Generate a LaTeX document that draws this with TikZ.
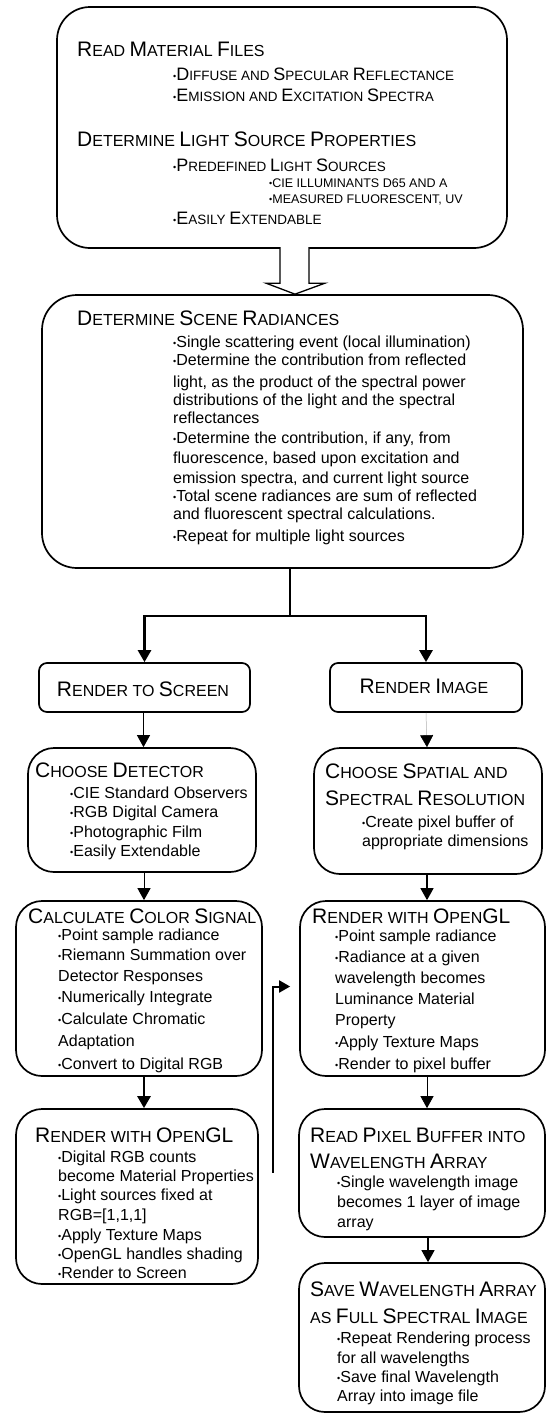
\documentclass[tikz,border=0pt]{standalone}
\usepackage{fontspec}
\setmainfont{Liberation Sans}
\usetikzlibrary{arrows.meta,calc,fit}
\newcommand\tbig{\fontsize{21}{25}\selectfont}
\newcommand\tsml{\fontsize{16}{19}\selectfont}
\newcommand\tw[2]{{\tbig #1}{\tsml #2}}
\newcommand\bbig{\fontsize{18}{21}\selectfont}
\newcommand\bsml{\fontsize{13.5}{16}\selectfont}
\newcommand\bw[2]{{\bbig #1}{\bsml #2}}
\newcommand\ssml{\fontsize{12.5}{15}\selectfont}
\newcommand\bodyf{\fontsize{16}{19}\selectfont}
\newcommand\bul{\raisebox{0.9pt}{\fontsize{9}{9}\selectfont •}}
\tikzset{
  box/.style={draw, line width=1.7pt, inner sep=0pt},
  ln/.style={anchor=base west, inner sep=0pt, font=\bodyf},
  ttl/.style={anchor=base west, inner sep=0pt, font=\tsml},
  arr/.style={-{Triangle[width=13pt,length=12pt]}},
}
\begin{document}
\begin{tikzpicture}[x=1pt,y=-1pt]
\path[use as bounding box, fill=white] (0,0) rectangle (547,1414);

% boxes
\node[box, rounded corners=33pt, fit={(57,7) (507,248)}] (top) {};
\node[box, rounded corners=35pt, fit={(42,295) (523,568)}] (det) {};
\node[box, rounded corners=8pt, fit={(39,663) (250,712)}] (rts) {};
\node[box, rounded corners=8pt, fit={(330,663) (522,712)}] (rimg) {};
\node[box, rounded corners=26pt, fit={(28,748) (256,872)}] (chd) {};
\node[box, rounded corners=26pt, fit={(314,748) (542,874)}] (css) {};
\node[box, rounded corners=26pt, fit={(16,901) (262,1076)}] (ccs) {};
\node[box, rounded corners=26pt, fit={(16,1109) (258,1284)}] (rgl) {};
\node[box, rounded corners=26pt, fit={(300,901) (545,1076)}] (rgr) {};
\node[box, rounded corners=26pt, fit={(299,1109) (545,1237)}] (rpb) {};
\node[box, rounded corners=26pt, fit={(299,1263) (545,1412)}] (sav) {};

% top box text
\node[ttl] (t1) at (77,56) {\tw{R}{EAD} \tw{M}{ATERIAL} \tw{F}{ILES}};
\node[ttl, font=\bsml] (t2) at (173,80) {\bul\bw{D}{IFFUSE} AND \bw{S}{PECULAR} \bw{R}{EFLECTANCE}};
\node[ttl, font=\bsml] (t3) at (173,101) {\bul\bw{E}{MISSION} AND \bw{E}{XCITATION} \bw{S}{PECTRA}};
\node[ttl] (t4) at (77,146) {\tw{D}{ETERMINE} \tw{L}{IGHT} \tw{S}{OURCE} \tw{P}{ROPERTIES}};
\node[ttl, font=\bsml] (t5) at (173,171) {\bul\bw{P}{REDEFINED} \bw{L}{IGHT} \bw{S}{OURCES}};
\node[ttl, font=\ssml] (t6) at (269,187) {\bul CIE ILLUMINANTS D65 AND A};
\node[ttl, font=\ssml] (t7) at (269,203) {\bul MEASURED FLUORESCENT, UV};
\node[ttl, font=\bsml] (t8) at (173,224) {\bul\bw{E}{ASILY} \bw{E}{XTENDABLE}};

% determine box text
\node[ttl] (d0) at (77,325) {\tw{D}{ETERMINE} \tw{S}{CENE} \tw{R}{ADIANCES}};
\node[ln] (d1) at (173,347) {\bul Single scattering event (local illumination)};
\node[ln] (d2) at (173,365) {\bul Determine the contribution from reflected};
\node[ln] (d3) at (173,387) {light, as the product of the spectral power};
\node[ln] (d4) at (173,405) {distributions of the light and the spectral};
\node[ln] (d5) at (173,423) {reflectances};
\node[ln] (d6) at (173,443) {\bul Determine the contribution, if any, from};
\node[ln] (d7) at (173,463) {fluorescence, based upon excitation and};
\node[ln] (d8) at (173,483) {emission spectra, and current light source};
\node[ln] (d9) at (173,501) {\bul Total scene radiances are sum of reflected};
\node[ln] (d10) at (173,519) {and fluorescent spectral calculations.};
\node[ln] (d11) at (173,541) {\bul Repeat for multiple light sources};

% render to screen / render image
\node[anchor=base, inner sep=0pt, font=\tsml] (rtsT) at (143,696) {\tw{R}{ENDER} TO \tw{S}{CREEN}};
\node[anchor=base, inner sep=0pt, font=\tsml] (rimgT) at (424,693) {\tw{R}{ENDER} \tw{I}{MAGE}};

% choose detector
\node[ttl] (c0) at (35,777) {\tw{C}{HOOSE} \tw{D}{ETECTOR}};
\node[ln] (c1) at (70,798) {\bul CIE Standard Observers};
\node[ln] (c2) at (70,817) {\bul RGB Digital Camera};
\node[ln] (c3) at (70,837) {\bul Photographic Film};
\node[ln] (c4) at (70,856) {\bul Easily Extendable};

% choose spatial
\node[ttl] (s0) at (325,778) {\tw{C}{HOOSE} \tw{S}{PATIAL} AND};
\node[ttl] (s1) at (325,805) {\tw{S}{PECTRAL} \tw{R}{ESOLUTION}};
\node[ln] (s2) at (362,827) {\bul Create pixel buffer of};
\node[ln] (s3) at (362,846) {appropriate dimensions};

% calculate color signal
\node[ttl] (k0) at (28,923) {\tw{C}{ALCULATE} \tw{C}{OLOR} \tw{S}{IGNAL}};
\node[ln] (k1) at (58,940) {\bul Point sample radiance};
\node[ln] (k2) at (58,960) {\bul Riemann Summation over};
\node[ln] (k3) at (58,981) {Detector Responses};
\node[ln] (k4) at (58,1002) {\bul Numerically Integrate};
\node[ln] (k5) at (58,1024) {\bul Calculate Chromatic};
\node[ln] (k6) at (58,1046) {Adaptation};
\node[ln] (k7) at (58,1069) {\bul Convert to Digital RGB};

% render with opengl (left)
\node[ttl] (g0) at (35,1142) {\tw{R}{ENDER} WITH \tw{O}{PEN}{\tbig GL}};
\node[ln] (g1) at (58,1162) {\bul Digital RGB counts};
\node[ln] (g2) at (58,1181) {become Material Properties};
\node[ln] (g3) at (58,1200) {\bul Light sources fixed at};
\node[ln] (g4) at (58,1220) {RGB=[1,1,1]};
\node[ln] (g5) at (58,1240) {\bul Apply Texture Maps};
\node[ln] (g6) at (58,1259) {\bul OpenGL handles shading};
\node[ln] (g7) at (58,1278) {\bul Render to Screen};

% render with opengl (right)
\node[ttl] (h0) at (312,923) {\tw{R}{ENDER} WITH \tw{O}{PEN}{\tbig GL}};
\node[ln] (h1) at (335,941) {\bul Point sample radiance};
\node[ln] (h2) at (335,962) {\bul Radiance at a given};
\node[ln] (h3) at (335,983) {wavelength becomes};
\node[ln] (h4) at (335,1004) {Luminance Material};
\node[ln] (h5) at (335,1025) {Property};
\node[ln] (h6) at (335,1047) {\bul Apply Texture Maps};
\node[ln] (h7) at (335,1069) {\bul Render to pixel buffer};

% read pixel buffer
\node[ttl] (p0) at (310,1142) {\tw{R}{EAD} \tw{P}{IXEL} \tw{B}{UFFER} INTO};
\node[ttl] (p1) at (310,1168) {\tw{W}{AVELENGTH} \tw{A}{RRAY}};
\node[ln] (p2) at (337,1187) {\bul Single wavelength image};
\node[ln] (p3) at (337,1207) {becomes 1 layer of image};
\node[ln] (p4) at (337,1227) {array};

% save
\node[ttl] (v0) at (310,1296) {\tw{S}{AVE} \tw{W}{AVELENGTH} \tw{A}{RRAY}};
\node[ttl] (v1) at (310,1323) {AS \tw{F}{ULL} \tw{S}{PECTRAL} \tw{I}{MAGE}};
\node[ln] (v2) at (337,1343) {\bul Repeat Rendering process};
\node[ln] (v3) at (337,1363) {for all wavelengths};
\node[ln] (v4) at (337,1382) {\bul Save final Wavelength};
\node[ln] (v5) at (337,1401) {Array into image file};

% hollow block arrow
\coordinate (hatip) at ($(det.north)+(12.5,0)$);
\draw[line width=1.3pt, fill=white, line join=miter]
  ($(hatip)+(-15,-47)$) -- ($(hatip)+(-15,-11)$) -- ($(hatip)+(-29,-11)$) --
  (hatip) -- ($(hatip)+(30,-11)$) -- ($(hatip)+(14,-11)$) -- ($(hatip)+(14,-47)$);

% fork
\coordinate (fork0) at ($(det.south)+(7.5,0)$);
\coordinate (fork) at ($(fork0)+(0,47)$);
\draw[line width=2.6pt] (fork0) -- (fork);
\draw[line width=2.6pt, arr] (fork) -| (rts.north);
\draw[line width=2.6pt, arr] (fork) -| (rimg.north);

% left column
\coordinate (a1) at ($(rts.south)+(-1,0)$);
\draw[line width=1pt, arr] (a1) -- (a1 |- chd.north);
\coordinate (a2) at ($(chd.south)+(2,0)$);
\draw[line width=1pt, arr] (a2) -- (a2 |- ccs.north);
\coordinate (a3) at ($(ccs.south)+(5,0)$);
\draw[line width=2.6pt, arr] (a3) -- (a3 |- rgl.north);

% right column
\draw[gray!60, line width=0.5pt, -{Triangle[width=13pt,length=12pt,color=black]}] (rimg.south) -- ($(css.north)+(-1,0)$);
\coordinate (b1) at ($(css.south)+(-1,0)$);
\draw[line width=1.3pt, arr] (b1) -- (b1 |- rgr.north);
\coordinate (b2) at ($(rgr.south)+(4.5,0)$);
\draw[line width=0.8pt, arr] (b2) -- (b2 |- rpb.north);
\coordinate (b3) at ($(rpb.south)+(6,0)$);
\draw[line width=1.2pt, arr] (b3) -- (b3 |- sav.north);

% feedback
\coordinate (fbtip) at ($(rgr.west)+(-9,-2)$);
\coordinate (fb0) at ($(fbtip)+(-17,186)$);
\draw[line width=2pt, -{Triangle[width=12pt,length=11pt]}] (fb0) |- (fbtip);
\end{tikzpicture}
\end{document}
